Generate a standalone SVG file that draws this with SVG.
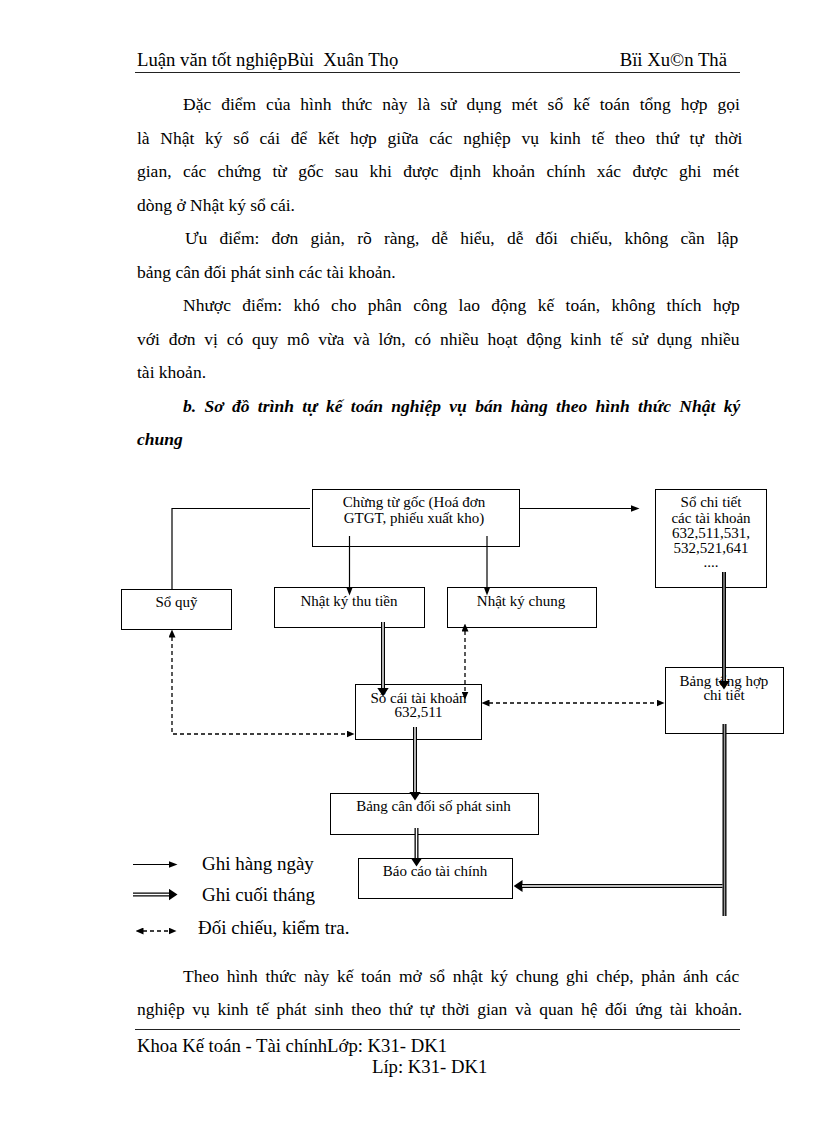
<svg xmlns="http://www.w3.org/2000/svg" width="816" height="1123" viewBox="0 0 816 1123">
<style>
.t{font-family:"Liberation Serif","Times New Roman",serif;fill:#000}
.hd{font-size:18.7px}
.bd{font-size:17.5px}
.ti{font-size:17.5px;font-weight:bold;font-style:italic}
.bx{font-size:15px;text-anchor:middle}
.lg{font-size:19px}
.box{fill:#fff;stroke:#000;stroke-width:1}
.s1{fill:none;stroke:#000;stroke-width:1.2}
.dd{fill:none;stroke:#000;stroke-width:4}
.di{fill:none;stroke:#fff;stroke-width:1.4}
.dg{fill:none;stroke:#999;stroke-width:1.4}
.ds{fill:none;stroke:#000;stroke-width:1.3;stroke-dasharray:4 3}
.rule{stroke:#222;stroke-width:1}
</style>
<defs>
<marker id="a1" viewBox="0 0 9 7" refX="0.5" refY="3.5" markerWidth="9" markerHeight="7" markerUnits="userSpaceOnUse" orient="auto"><path d="M0,0 L9,3.5 L0,7 z" fill="#000"/></marker>
<marker id="a2" viewBox="0 0 9 12" refX="0.5" refY="6" markerWidth="9" markerHeight="12" markerUnits="userSpaceOnUse" orient="auto"><path d="M0,0 L9,6 L0,12 z" fill="#000"/></marker>
<marker id="a3" viewBox="0 0 8 7" refX="0.5" refY="3.5" markerWidth="8" markerHeight="7" markerUnits="userSpaceOnUse" orient="auto-start-reverse"><path d="M0,0 L8,3.5 L0,7 z" fill="#000"/></marker>
</defs>
<rect width="816" height="1123" fill="#fff"/>

<g id="header">
<text class="t hd" x="137" y="66" style="white-space:pre">Luận văn tốt nghiệpBùi  Xuân Thọ</text>
<text class="t hd" x="727" y="66" text-anchor="end">Bïi Xu©n Thä</text>
<line class="rule" x1="135" y1="72.5" x2="740" y2="72.5"/>
</g>

<g id="body-text">
<text class="t bd" x="183" y="110" word-spacing="5.6">Đặc điểm của hình thức này là sử dụng mét sổ kế toán tổng hợp gọi</text>
<text class="t bd" x="137" y="143.5" word-spacing="6.35">là Nhật ký sổ cái để kết hợp giữa các nghiệp vụ kinh tế theo thứ tự thời</text>
<text class="t bd" x="137" y="177" word-spacing="7.0">gian, các chứng từ gốc sau khi được định khoản chính xác được ghi mét</text>
<text class="t bd" x="137" y="210.5">dòng ở Nhật ký sổ cái.</text>
<text class="t bd" x="185" y="244" word-spacing="7.8">Ưu điểm: đơn giản, rõ ràng, dễ hiểu, dễ đối chiếu, không cần lập</text>
<text class="t bd" x="137" y="277.5">bảng cân đối phát sinh các tài khoản.</text>
<text class="t bd" x="183" y="311" word-spacing="7.0">Nhược điểm: khó cho phân công lao động kế toán, không thích hợp</text>
<text class="t bd" x="137" y="344.5" word-spacing="4.45">với đơn vị có quy mô vừa và lớn, có nhiều hoạt động kinh tế sử dụng nhiều</text>
<text class="t bd" x="137" y="378">tài khoản.</text>
<text class="t ti" x="183" y="411.5" word-spacing="4">b. Sơ đồ trình tự kế toán nghiệp vụ bán hàng theo hình thức Nhật ký</text>
<text class="t ti" x="137" y="445">chung</text>
</g>

<g id="n-chungtu">
<rect class="box" x="312.5" y="489.5" width="207" height="57"/>
<text class="t bx" x="414" y="507">Chừng từ gốc (Hoá đơn</text>
<text class="t bx" x="414" y="523">GTGT, phiếu xuất kho)</text>
</g>
<g id="n-soquy">
<rect class="box" x="121.5" y="589.5" width="110" height="40"/>
<text class="t bx" x="176.5" y="607">Sổ quỹ</text>
</g>
<g id="n-nkthutien">
<rect class="box" x="274.5" y="587.5" width="150" height="40"/>
<text class="t bx" x="349" y="606">Nhật ký thu tiền</text>
</g>
<g id="n-nkchung">
<rect class="box" x="447.5" y="587.5" width="149" height="40"/>
<text class="t bx" x="521" y="606">Nhật ký chung</text>
</g>
<g id="n-sochitiet">
<rect class="box" x="655.5" y="489.5" width="111" height="98"/>
<text class="t bx" x="711" y="507">Sổ chi tiết</text>
<text class="t bx" x="711" y="523">các tài khoản</text>
<text class="t bx" x="711" y="538">632,511,531,</text>
<text class="t bx" x="711" y="553">532,521,641</text>
<text class="t bx" x="711" y="567">....</text>
</g>
<g id="n-socai">
<rect class="box" x="355.5" y="684.5" width="126" height="55"/>
<text class="t bx" x="418.5" y="703">Sổ cái tài khoản</text>
<text class="t bx" x="418.5" y="717">632,511</text>
</g>
<g id="n-bangtonghop">
<rect class="box" x="665.5" y="667.5" width="118" height="66"/>
<text class="t bx" x="724" y="686">Bảng tổng hợp</text>
<text class="t bx" x="724" y="700">chi tiết</text>
</g>
<g id="n-bangcandoi">
<rect class="box" x="330.5" y="793.5" width="208" height="41"/>
<text class="t bx" x="433.5" y="811">Bảng cân đối số phát sinh</text>
</g>
<g id="n-baocao">
<rect class="box" x="358.5" y="858.5" width="154" height="40"/>
<text class="t bx" x="435" y="876">Báo cáo tài chính</text>
</g>

<g id="connectors">
<path class="s1" d="M310,508.5 H172 V589"/>
<path class="s1" d="M349.5,536 V587" marker-end="url(#a1)"/>
<path class="s1" d="M487,536 V587" marker-end="url(#a1)"/>
<path class="s1" d="M519.5,508.5 H631" marker-end="url(#a1)"/>

<path class="dd" d="M383,622 V688" marker-end="url(#a2)"/>
<path class="di" d="M383,622 V688"/>
<path class="dd" d="M415,727 V792" marker-end="url(#a2)"/>
<path class="di" d="M415,727 V792"/>
<path class="dd" d="M416.5,828 V858" marker-end="url(#a2)"/>
<path class="di" d="M416.5,828 V858"/>
<path class="dd" d="M724,572 V681" marker-end="url(#a2)"/>
<path class="dg" d="M724,572 V681"/>
<path class="dd" d="M724.5,724 V916"/>
<path class="dg" d="M724.5,724 V916"/>
<path class="dd" d="M722.5,886 H522" marker-end="url(#a2)"/>
<path class="di" d="M722.5,886 H522"/>

<path class="ds" d="M172,637 V734 H347" marker-start="url(#a3)" marker-end="url(#a3)"/>
<path class="ds" d="M465,631 V692" marker-start="url(#a3)" marker-end="url(#a3)"/>
<path class="ds" d="M489,703 H657" marker-start="url(#a3)" marker-end="url(#a3)"/>
</g>

<g id="legend">
<path class="s1" d="M133,864.5 H169" marker-end="url(#a1)"/>
<text class="t lg" x="202" y="870">Ghi hàng ngày</text>
<path class="dd" d="M133,894.5 H169" marker-end="url(#a2)"/>
<path class="di" d="M133,894.5 H169"/>
<text class="t lg" x="202" y="901">Ghi cuối tháng</text>
<path class="ds" d="M143,931 H169" marker-start="url(#a3)" marker-end="url(#a3)"/>
<text class="t lg" x="198" y="934">Đối chiếu, kiểm tra.</text>
</g>

<g id="footer">
<text class="t bd" x="183" y="982" word-spacing="3.3">Theo hình thức này kế toán mở sổ nhật ký chung ghi chép, phản ánh các</text>
<text class="t bd" x="137" y="1015" word-spacing="3.3">nghiệp vụ kinh tế phát sinh theo thứ tự thời gian và quan hệ đối ứng tài khoản.</text>
<line class="rule" x1="135" y1="1029.5" x2="740" y2="1029.5"/>
<text class="t hd" x="137" y="1052">Khoa Kế toán - Tài chínhLớp: K31- DK1</text>
<text class="t hd" x="372" y="1073">Líp: K31- DK1</text>
</g>
</svg>
